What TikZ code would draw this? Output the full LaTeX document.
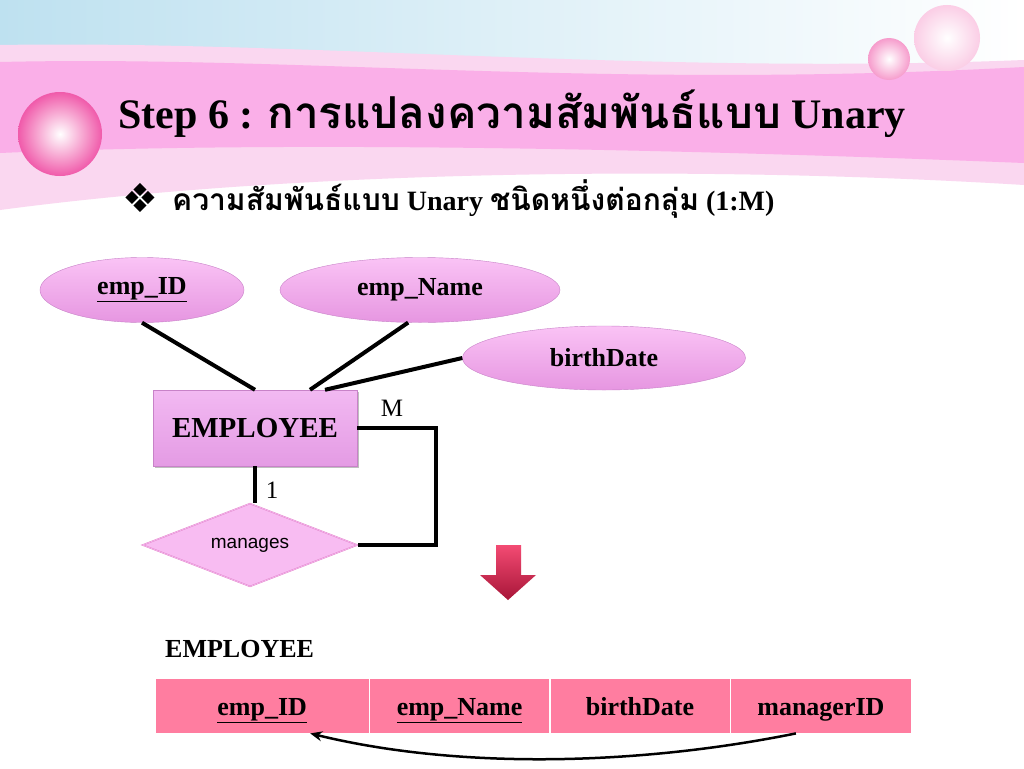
\documentclass[tikz,border=0pt]{standalone}
\usepackage{fontspec}
\setmainfont{Liberation Serif}
\setsansfont{Liberation Sans}
\newfontfamily\thaifont[Script=Thai]{Loma}
\newfontfamily\symfont{DejaVu Sans}
\usetikzlibrary{shapes.geometric,shadows,positioning,arrows.meta}

\newcommand{\thai}[1]{{\thaifont #1}}
\newcommand{\fsize}[1]{\fontsize{#1}{#1}\selectfont}

\definecolor{skyblue}{RGB}{190,225,240}
\definecolor{bandpink}{RGB}{250,175,232}
\definecolor{lightband}{RGB}{250,215,240}
\definecolor{ballpink}{RGB}{240,90,170}
\definecolor{attrtop}{RGB}{250,195,245}
\definecolor{attrbot}{RGB}{230,150,225}
\definecolor{attrline}{RGB}{200,130,200}
\definecolor{enttop}{RGB}{242,185,242}
\definecolor{entbot}{RGB}{228,155,228}
\definecolor{relfill}{RGB}{248,188,242}
\definecolor{relline}{RGB}{225,130,200}
\definecolor{cellpink}{RGB}{255,125,160}
\definecolor{arrowred}{RGB}{240,30,80}

\tikzset{
	attr/.style = {ellipse, draw = attrline, top color = attrtop, bottom color = attrbot,
		inner sep = 0pt, font = \bfseries\fsize{26}},
	entity/.style = {rectangle, draw = attrline, top color = enttop, bottom color = entbot, drop shadow,
		minimum width = 204pt, minimum height = 76pt, font = \bfseries\fsize{29}},
	rel/.style = {diamond, draw = relline, double = relfill, fill = relfill, aspect = 2.6,
		minimum width = 215pt, minimum height = 83pt, inner sep = 0pt, font = \sffamily\fsize{19}},
	link/.style = {line width = 4pt},
	card/.style = {font = \fsize{25}},
	cell/.style = {rectangle, draw = white, fill = cellpink, minimum height = 55pt,
		text height = 23pt, text depth = 3pt, inner sep = 0pt, font = \bfseries\fsize{26}}
}

\begin{document}
\begin{tikzpicture}[x = 1pt, y = -1pt]
	\useasboundingbox (0,0) rectangle (1024,768);
	
	% background
	\fill[white] (0,0) rectangle (1024,768);
	\shade[left color = skyblue, right color = white] (0,0) rectangle (1024,120);
	\fill[lightband] (0,45) .. controls (300,40) and (650,75) .. (1024,60) -- (1024,185)
		.. controls (700,165) and (300,170) .. (0,210) -- cycle;
	\fill[bandpink] (0,62) .. controls (300,55) and (600,90) .. (1024,67) -- (1024,163)
		.. controls (700,150) and (300,140) .. (0,153) -- cycle;
	\shade[inner color = white, outer color = ballpink] (60,134) circle (42);
	\shade[inner color = white, outer color = ballpink!60] (889,59) circle (21);
	\shade[inner color = white, outer color = ballpink!30] (947,38) circle (33);
	
	% title
	\node[anchor = base west, inner sep = 0pt, font = \bfseries\fsize{42}] (title) at (118,128)
		{Step 6 : \thai{\fsize{44}การแปลงความสัมพันธ์แบบ} Unary};
	\node[anchor = base west, inner sep = 0pt, font = \symfont\fsize{40}] (bullet) at (122,212) {❖};
	\node[anchor = base west, inner sep = 0pt, font = \bfseries\fsize{28}] (subtitle) at (172,210)
		{\thai{\fsize{30}ความสัมพันธ์แบบ} Unary \thai{\fsize{30}ชนิดหนึ่งต่อกลุ่ม} (1:M)};
	
	% er diagram
	\node[attr, minimum width = 204pt, minimum height = 65pt] (empid) at (142,290) {\underline{emp\_ID}};
	\node[attr, minimum width = 280pt, minimum height = 65pt] (empname) at (420,290) {emp\_Name};
	\node[attr, minimum width = 283pt, minimum height = 64pt] (birth) at (604,358) {birthDate};
	\node[entity] (emp) at (255,428) {EMPLOYEE};
	\node[rel] (manages) at (250,545) {manages};
	
	\draw[link] (empid.south) -- (emp.north);
	\draw[link] (empname.250) -- ([xshift = 55pt]emp.north);
	\draw[link] (birth.west) -- ([xshift = 70pt]emp.north);
	\draw[link] (emp.south) -- (emp.south |- manages.north);
	\draw[link] (emp.east) -- ++(79,0) |- (manages.east);
	\node[card] (many) at (392,408) {M};
	\node[card] (one) at (272,490) {1};
	
	% mapping arrow
	\shade[top color = arrowred!80, bottom color = arrowred!70!black]
		(496,545) -- (521,545) -- (521,575) -- (536,575) -- (508,600) -- (480,575) -- (496,575) -- cycle;
	
	% relation table
	\node[anchor = base west, inner sep = 0pt, font = \bfseries\fsize{26}] (tname) at (165,657) {EMPLOYEE};
	\node[cell, minimum width = 214pt, anchor = north west] (c1) at (155,678) {\underline{emp\_ID}};
	\node[cell, minimum width = 180pt, right = 0pt of c1] (c2) {\underline{emp\_Name}};
	\node[cell, minimum width = 180pt, right = 0pt of c2] (c3) {birthDate};
	\node[cell, minimum width = 181pt, right = 0pt of c3] (c4) {managerID};
	
	\draw[line width = 2.5pt, -{Stealth[length = 12pt, width = 10pt]}] ([xshift = -25pt]c4.south)
		.. controls (640,765) and (460,770) .. ([xshift = 48pt]c1.south);
\end{tikzpicture}
\end{document}
